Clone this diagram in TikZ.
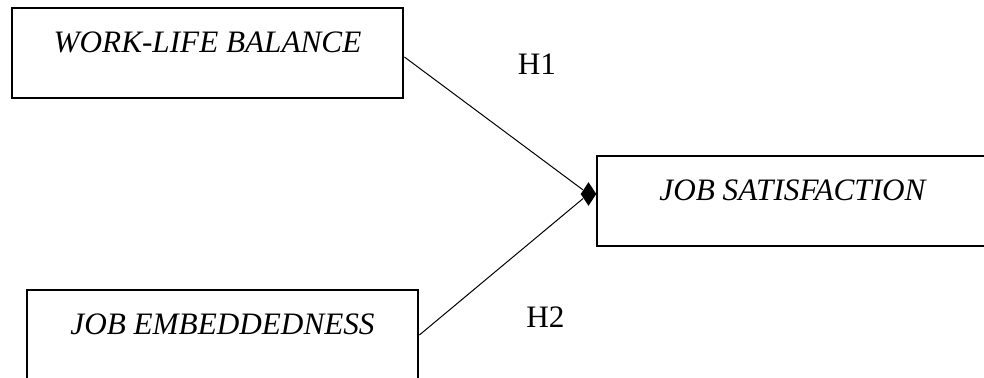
\documentclass[tikz,border=0pt]{standalone}
\usepackage{fontspec}
\setmainfont{Liberation Serif}
\usetikzlibrary{positioning,shapes.geometric}

\begin{document}
\begin{tikzpicture}[
        x=0.5pt, y=-0.5pt,
        construct/.style={
                rectangle,
                draw=black,
                line width=1.4pt,
                inner sep=0pt,
                minimum width=195.5pt,
                text height=22.5pt,
                text depth=22.5pt,
                font=\fontsize{15.6}{18}\selectfont\itshape
            },
        hypothesis/.style = {font=\fontsize{15.6}{18}\selectfont, inner sep=0pt, anchor=base},
        head/.style = {diamond, fill=black, inner sep=0pt, minimum width=8pt, minimum height=12pt},
        line width=0.5pt
    ]
    \useasboundingbox (0,0) rectangle (984,378);
    \clip (0,0) rectangle (984,378);

    \node[construct] (balance) at (207.5,53) {WORK-LIFE BALANCE};
    \node[construct] (satisfaction) at (792.5,201) {JOB SATISFACTION};
    \node[construct] (embedded) at (222.5,335) {JOB EMBEDDEDNESS};
    \node[head] (tip) [left=-0.7pt of satisfaction.west, yshift=3.5pt] {};

    \node[hypothesis] (h1) at (537,75) {H1};
    \node[hypothesis] (h2) at (545.5,328) {H2};

    \path ([yshift=-2pt]balance.east) edge (tip);
    \path (embedded.east) edge (tip);
\end{tikzpicture}
\end{document}
